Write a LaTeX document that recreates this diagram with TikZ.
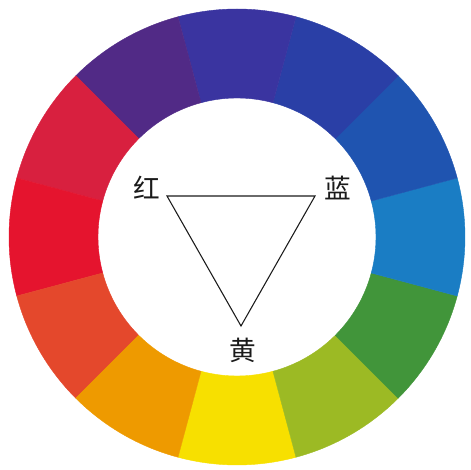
\documentclass[tikz,border=0pt]{standalone}
\usepackage{fontspec}
\newfontfamily\cjk{Noto Sans CJK SC}
\usetikzlibrary{positioning}
\definecolor{wyellow}{HTML}{F7E000}
\definecolor{wlime}{HTML}{9CBA24}
\definecolor{wgreen}{HTML}{41953A}
\definecolor{wsky}{HTML}{1A7DC4}
\definecolor{wblue}{HTML}{1F54B0}
\definecolor{wnavy}{HTML}{2A3FA6}
\definecolor{windigo}{HTML}{3A34A0}
\definecolor{wviolet}{HTML}{512A86}
\definecolor{wcrimson}{HTML}{D8203F}
\definecolor{wred}{HTML}{E5142E}
\definecolor{wvermil}{HTML}{E4482C}
\definecolor{worange}{HTML}{EE9A00}
\definecolor{ink}{HTML}{1A1A1A}

\begin{document}
\begin{tikzpicture}[x=0.75pt, y=0.75pt,
  seg/.style={line width=0.3pt},
  lbl/.style={font=\cjk\fontsize{20}{24}\selectfont, text=ink, inner sep=0pt},
  tri/.style={draw=ink, line width=0.8pt, line join=miter},
]
\useasboundingbox (-237,-233) rectangle (234,237);
% colour ring, 12 sectors of 30 degrees
\foreach \a/\c in {270/wyellow, 300/wlime, 330/wgreen, 0/wsky, 30/wblue,
                   60/wnavy, 90/windigo, 120/wviolet, 150/wcrimson,
                   180/wred, 210/wvermil, 240/worange} {
  \fill[seg, \c, draw=\c] (\a-15:139) -- (\a-15:228) arc[start angle=\a-15, end angle=\a+15, radius=228]
    -- (\a+15:139) arc[start angle=\a+15, end angle=\a-15, radius=139] -- cycle;
}
% primaries
\coordinate (R) at (-70,41);
\coordinate (B) at (78,41);
\coordinate (Y) at (4,-89);
\node[lbl] (red) at (-90,49) {红};
\node[lbl] (blue) at (101,49) {蓝};
\node[lbl] (yellow) at (6,-113) {黄};
\draw[tri] (R) -- (B) -- (Y) -- cycle;
\end{tikzpicture}
\end{document}
